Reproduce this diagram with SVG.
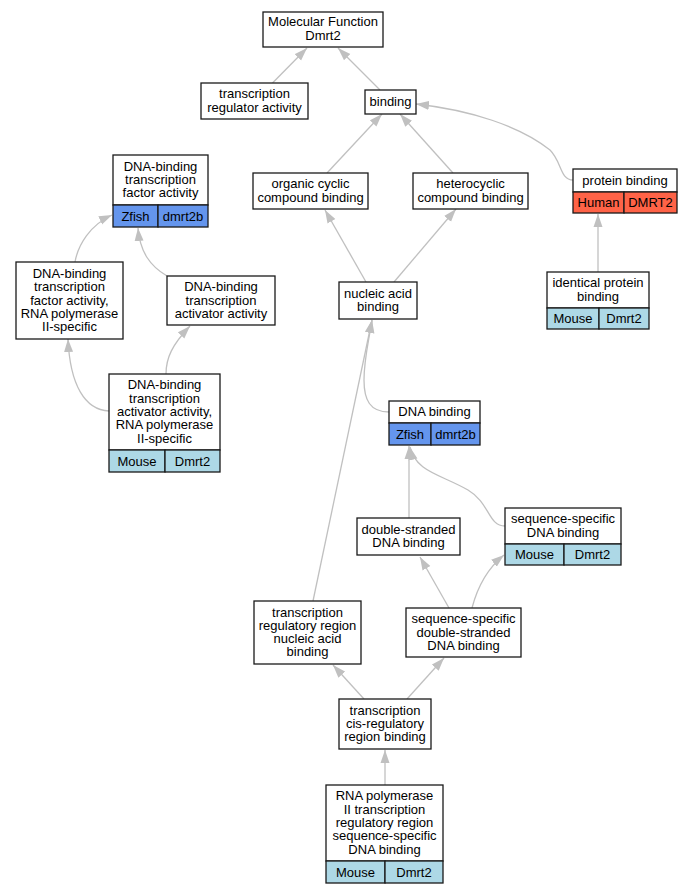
<svg xmlns="http://www.w3.org/2000/svg" width="693" height="893" viewBox="0 0 693 893">
<style>
.bg{fill:#ffffff}
.n{fill:#ffffff;stroke:#1a1a1a;stroke-width:1.3}
.z{fill:#6495ed;stroke:#1a1a1a;stroke-width:1.3}
.m{fill:#add8e6;stroke:#1a1a1a;stroke-width:1.3}
.h{fill:#ff6347;stroke:#1a1a1a;stroke-width:1.3}
text{font-family:"Liberation Sans",Arial,sans-serif;font-size:13px;fill:#000;text-anchor:middle}
.e{fill:none;stroke:#c0c0c0;stroke-width:1.3;marker-end:url(#ah)}
</style>
<defs>
<marker id="ah" markerUnits="userSpaceOnUse" markerWidth="13" markerHeight="10" refX="13" refY="4.5" orient="auto" viewBox="0 0 13 9">
<path d="M0,0 L13,4.5 L0,9 z" fill="#c0c0c0"/>
</marker>
</defs>
<rect class="bg" x="0" y="0" width="693" height="893"/>
<g id="edges">
<path class="e" d="M272.5,83 L307,48"/>
<path class="e" d="M380,90 L338,48"/>
<path class="e" d="M327,173 L382,114"/>
<path class="e" d="M453,173 L400,114"/>
<path class="e" d="M573,180 C560,180 562,162 550,150 C520,126 470,110 416,104"/>
<path class="e" d="M598,272 L598,214"/>
<path class="e" d="M366,282 L325,210"/>
<path class="e" d="M394,282 L456,209"/>
<path class="e" d="M75,262 C78,245 90,225 112,215"/>
<path class="e" d="M167,276 C150,266 140,252 138,228"/>
<path class="e" d="M109,411 C85,410 70,385 68,339"/>
<path class="e" d="M166,374 C166,358 172,345 190,326"/>
<path class="e" d="M389,412 C370,412 364,400 364,380 C364,360 368,345 372,320"/>
<path class="e" d="M313,601 L372,320"/>
<path class="e" d="M409,518 L409,446"/>
<path class="e" d="M505,526 C488,526 490,503 468,490 C440,474 416,472 410,447"/>
<path class="e" d="M449,608 L420,557"/>
<path class="e" d="M472,608 C478,585 488,568 504,555"/>
<path class="e" d="M364,699 L333,665"/>
<path class="e" d="M407,699 L444,658"/>
<path class="e" d="M385,785 L385,750"/>
</g>
<g id="mf">
<rect class="n" x="263" y="12" width="120" height="35"/>
<text x="323" y="26.3">Molecular Function</text>
<text x="323" y="39.6">Dmrt2</text>
</g>
<g id="tra">
<rect class="n" x="201" y="83" width="107" height="36"/>
<text x="254.5" y="98.3">transcription</text>
<text x="254.5" y="111.6">regulator activity</text>
</g>
<g id="binding">
<rect class="n" x="365" y="90" width="51" height="24"/>
<text x="390.5" y="106.2">binding</text>
</g>
<g id="dbtfa">
<rect class="n" x="113" y="155" width="95" height="50"/>
<text x="160.5" y="170.7">DNA-binding</text>
<text x="160.5" y="184">transcription</text>
<text x="160.5" y="197.3">factor activity</text>
<rect class="z" x="113" y="205" width="45" height="22"/>
<rect class="z" x="158" y="205" width="50" height="22"/>
<text x="135.5" y="220.5">Zfish</text>
<text x="183" y="220.5">dmrt2b</text>
</g>
<g id="occb">
<rect class="n" x="253" y="173" width="115" height="36"/>
<text x="310.5" y="188.3">organic cyclic</text>
<text x="310.5" y="201.6">compound binding</text>
</g>
<g id="hcb">
<rect class="n" x="413" y="173" width="115" height="36"/>
<text x="470.5" y="188.3">heterocyclic</text>
<text x="470.5" y="201.6">compound binding</text>
</g>
<g id="pb">
<rect class="n" x="573" y="169" width="104" height="23"/>
<text x="625" y="184.7">protein binding</text>
<rect class="h" x="573" y="192" width="51" height="21"/>
<rect class="h" x="624" y="192" width="53" height="21"/>
<text x="598.5" y="207">Human</text>
<text x="650.5" y="207">DMRT2</text>
</g>
<g id="ipb">
<rect class="n" x="547" y="272" width="102" height="36"/>
<text x="598" y="287.3">identical protein</text>
<text x="598" y="300.6">binding</text>
<rect class="m" x="547" y="308" width="52" height="21"/>
<rect class="m" x="599" y="308" width="50" height="21"/>
<text x="573" y="323">Mouse</text>
<text x="624" y="323">Dmrt2</text>
</g>
<g id="nab">
<rect class="n" x="339" y="282" width="78" height="37"/>
<text x="378" y="297.8">nucleic acid</text>
<text x="378" y="311.1">binding</text>
</g>
<g id="dbtfa2">
<rect class="n" x="16" y="262" width="107" height="77"/>
<text x="69.5" y="277.9">DNA-binding</text>
<text x="69.5" y="291.2">transcription</text>
<text x="69.5" y="304.5">factor activity,</text>
<text x="69.5" y="317.8">RNA polymerase</text>
<text x="69.5" y="331.1">II-specific</text>
</g>
<g id="dbtaa">
<rect class="n" x="167" y="276" width="108" height="49"/>
<text x="221" y="291.2">DNA-binding</text>
<text x="221" y="304.5">transcription</text>
<text x="221" y="317.8">activator activity</text>
</g>
<g id="dbtaa2">
<rect class="n" x="109" y="374" width="111" height="76"/>
<text x="164.5" y="389.4">DNA-binding</text>
<text x="164.5" y="402.7">transcription</text>
<text x="164.5" y="416">activator activity,</text>
<text x="164.5" y="429.3">RNA polymerase</text>
<text x="164.5" y="442.6">II-specific</text>
<rect class="m" x="109" y="450" width="56" height="22"/>
<rect class="m" x="165" y="450" width="55" height="22"/>
<text x="137" y="465.5">Mouse</text>
<text x="192.5" y="465.5">Dmrt2</text>
</g>
<g id="dnab">
<rect class="n" x="389" y="401" width="91" height="22"/>
<text x="434.5" y="416.3">DNA binding</text>
<rect class="z" x="389" y="423" width="42" height="22"/>
<rect class="z" x="431" y="423" width="49" height="22"/>
<text x="410" y="438.5">Zfish</text>
<text x="455.5" y="438.5">dmrt2b</text>
</g>
<g id="dsdb">
<rect class="n" x="357" y="518" width="103" height="37"/>
<text x="408.5" y="533.8">double-stranded</text>
<text x="408.5" y="547.1">DNA binding</text>
</g>
<g id="ssdb">
<rect class="n" x="505" y="508" width="116" height="36"/>
<text x="563" y="523.3">sequence-specific</text>
<text x="563" y="536.6">DNA binding</text>
<rect class="m" x="505" y="544" width="59" height="21"/>
<rect class="m" x="564" y="544" width="57" height="21"/>
<text x="534.5" y="559">Mouse</text>
<text x="592.5" y="559">Dmrt2</text>
</g>
<g id="ssdsdb">
<rect class="n" x="406" y="608" width="115" height="49"/>
<text x="463.5" y="623.2">sequence-specific</text>
<text x="463.5" y="636.5">double-stranded</text>
<text x="463.5" y="649.8">DNA binding</text>
</g>
<g id="trrnab">
<rect class="n" x="254" y="601" width="107" height="63"/>
<text x="307.5" y="616.5">transcription</text>
<text x="307.5" y="629.8">regulatory region</text>
<text x="307.5" y="643.1">nucleic acid</text>
<text x="307.5" y="656.4">binding</text>
</g>
<g id="tcrb">
<rect class="n" x="339" y="699" width="92" height="50"/>
<text x="385" y="714.7">transcription</text>
<text x="385" y="728">cis-regulatory</text>
<text x="385" y="741.3">region binding</text>
</g>
<g id="rnap2">
<rect class="n" x="326" y="785" width="117" height="76"/>
<text x="384.5" y="800.4">RNA polymerase</text>
<text x="384.5" y="813.7">II transcription</text>
<text x="384.5" y="827">regulatory region</text>
<text x="384.5" y="840.3">sequence-specific</text>
<text x="384.5" y="853.6">DNA binding</text>
<rect class="m" x="326" y="861" width="59" height="22"/>
<rect class="m" x="385" y="861" width="58" height="22"/>
<text x="355.5" y="876.5">Mouse</text>
<text x="414" y="876.5">Dmrt2</text>
</g>
</svg>
